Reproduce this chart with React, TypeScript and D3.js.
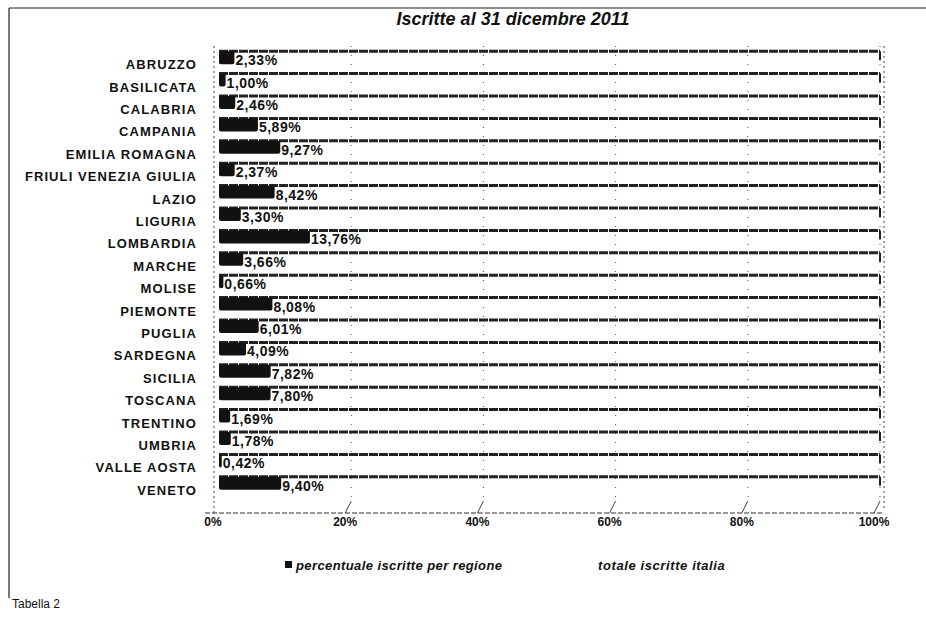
import React from "react";
import * as d3 from "d3";

const regions = [
  "ABRUZZO", "BASILICATA", "CALABRIA", "CAMPANIA", "EMILIA ROMAGNA",
  "FRIULI VENEZIA GIULIA", "LAZIO", "LIGURIA", "LOMBARDIA", "MARCHE",
  "MOLISE", "PIEMONTE", "PUGLIA", "SARDEGNA", "SICILIA", "TOSCANA",
  "TRENTINO", "UMBRIA", "VALLE AOSTA", "VENETO",
];
const percentuale = [
  2.33, 1.0, 2.46, 5.89, 9.27, 2.37, 8.42, 3.3, 13.76, 3.66,
  0.66, 8.08, 6.01, 4.09, 7.82, 7.8, 1.69, 1.78, 0.42, 9.4,
];
const totale = 100;
const xTicks = [0, 20, 40, 60, 80, 100];
const title = "Iscritte al 31 dicembre 2011";
const legendLabels = ["percentuale iscritte per regione", "totale iscritte italia"];
const footnote = "Tabella 2";

const W = 926;
const H = 621;

const fmt = (v: number) => v.toFixed(2).replace(".", ",") + "%";

export default function App() {
  const x = d3.scaleLinear().domain([0, 100]).range([219, 880]);
  const xFront = d3.scaleLinear().domain([0, 100]).range([213, 874]);
  const y = d3.scaleBand<string>().domain(regions).range([53, 501]).paddingInner(0);
  const bw = y.bandwidth();
  const plotTop = 46;
  const floorY = 513;

  return (
    <svg width={W} height={H} style={{ position: "absolute", left: 0, top: 0, background: "#fff" }}
      fontFamily="Arial, 'Liberation Sans', sans-serif">
      <rect x={0} y={0} width={W} height={H} fill="#fff" />
      {/* outer frame */}
      <line x1={9} y1={8} x2={W} y2={8} stroke="#222" strokeWidth={1.2} />
      <line x1={9} y1={8} x2={9} y2={598} stroke="#222" strokeWidth={1.2} />

      <text x={513} y={25} textAnchor="middle" fontSize={18} fontWeight="bold" fontStyle="italic" fill="#111">
        {title}
      </text>

      {/* walls */}
      <line x1={x(0) - 5} y1={plotTop} x2={x(0) - 5} y2={floorY} stroke="#444" strokeDasharray="2 3" />
      <line x1={x(100) + 4} y1={plotTop} x2={x(100) + 4} y2={floorY - 4} stroke="#444" strokeDasharray="2 3" />
      <line x1={xFront(0) - 8} y1={floorY} x2={x(100) + 4} y2={floorY} stroke="#333" strokeDasharray="5 2" />

      {/* gridlines */}
      {xTicks.slice(1).map((t) => (
        <g key={"g" + t}>
          <line x1={x(t)} y1={plotTop} x2={x(t)} y2={floorY - 12} stroke="#555" strokeDasharray="1 8" />
          <line x1={xFront(t)} y1={floorY} x2={x(t)} y2={floorY - 12} stroke="#444" />
        </g>
      ))}

      {/* rows */}
      {regions.map((r, i) => {
        const c = (y(r) as number) + bw / 2;
        const top = c - 13;
        const v = percentuale[i];
        return (
          <g key={r}>
            <text x={197} y={c + 5} textAnchor="end" fontSize={13} fontWeight="bold" letterSpacing={1.1} fill="#111">
              {r}
            </text>
            <line x1={x(0)} y1={top} x2={x(totale)} y2={top} stroke="#222" strokeWidth={3} strokeDasharray="9 1" />
            <line x1={x(totale)} y1={top} x2={x(totale)} y2={top + 9} stroke="#222" strokeWidth={2} />
            <rect x={x(0)} y={top} width={x(v) - x(0)} height={13} fill="#111" rx={2} />
            <text x={x(v) + 1} y={c + 1} fontSize={14} fontWeight="bold" letterSpacing={0.5} fill="#111">
              {fmt(v)}
            </text>
          </g>
        );
      })}

      {/* x axis labels */}
      {xTicks.map((t) => (
        <text key={"t" + t} x={xFront(t)} y={526} textAnchor="middle" fontSize={12} fontWeight="bold" fill="#111">
          {t + "%"}
        </text>
      ))}

      {/* legend */}
      <rect x={285} y={561} width={7} height={7} fill="#111" />
      <text x={296} y={570} fontSize={13} fontWeight="bold" fontStyle="italic" letterSpacing={0.4} fill="#111">
        {legendLabels[0]}
      </text>
      <text x={598} y={570} fontSize={13} fontWeight="bold" fontStyle="italic" letterSpacing={0.6} fill="#111">
        {legendLabels[1]}
      </text>

      <text x={12} y={608} fontSize={12} fill="#111">{footnote}</text>
    </svg>
  );
}
